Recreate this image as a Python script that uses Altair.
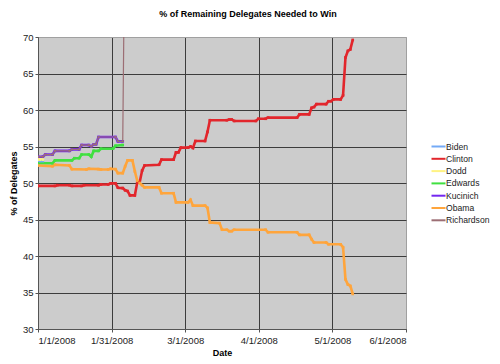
import altair as alt
import pandas as pd

# ---------------- data ----------------
candidates = ["Biden", "Clinton", "Dodd", "Edwards", "Kucinich", "Obama", "Richardson"]
colors = ["#74aaf6", "#e2262c", "#fff383", "#40e040", "#7427f0", "#ffa53c", "#9c6e74"]

biden_dates = ["01-01", "01-02", "01-03"]
biden_vals = [53.0, 53.0, 53.0]

dodd_dates = ["01-01", "01-02", "01-03"]
dodd_vals = [53.2, 53.2, 53.2]

clinton_dates = ["01-01", "01-08", "01-09", "01-14", "01-15", "01-19", "01-20", "01-26",
                 "01-27", "01-30", "01-31", "02-02", "02-03", "02-05", "02-06", "02-07",
                 "02-08", "02-10", "02-11", "02-12", "02-13", "02-14", "02-20", "02-21",
                 "02-26", "02-27", "02-28", "02-29", "03-03", "03-04", "03-05", "03-06",
                 "03-10", "03-11", "03-12", "03-19", "03-20", "03-21", "03-22", "03-31",
                 "04-01", "04-04", "04-05", "04-17", "04-18", "04-22", "04-23", "04-24",
                 "04-25", "04-29", "04-30", "05-01", "05-02", "05-05", "05-06", "05-07",
                 "05-08", "05-09", "05-10"]
clinton_vals = [49.6, 49.6, 49.7, 49.7, 49.6, 49.6, 49.7, 49.7,
                49.8, 49.8, 49.95, 49.95, 49.35, 49.3, 49.0, 48.9,
                48.3, 48.3, 50.1, 50.1, 51.7, 52.4, 52.5, 53.2,
                53.2, 54.2, 54.2, 54.85, 54.85, 55.0, 54.8, 55.75,
                55.75, 57.0, 58.6, 58.6, 58.7, 58.7, 58.5, 58.5,
                58.8, 58.8, 58.95, 58.95, 59.4, 59.4, 60.3, 60.4,
                60.8, 60.8, 61.2, 61.2, 61.45, 61.45, 62.0, 67.2,
                68.1, 68.3, 69.6]

edwards_dates = ["01-01", "01-07", "01-08", "01-15", "01-16", "01-18", "01-19", "01-22",
                 "01-23", "01-24", "01-26", "01-27", "02-01", "02-02", "02-05"]
edwards_vals = [52.7, 52.7, 53.1, 53.1, 53.4, 53.4, 53.9, 53.9,
                53.6, 54.4, 54.4, 54.7, 54.7, 55.1, 55.2]

kucinich_dates = ["01-01", "01-03", "01-04", "01-07", "01-08", "01-14", "01-15", "01-18",
                  "01-19", "01-22", "01-23", "01-24", "01-25", "01-26", "02-02", "02-03",
                  "02-05"]
kucinich_vals = [53.6, 53.6, 53.9, 53.9, 54.4, 54.4, 54.6, 54.6,
                 55.2, 55.2, 55.0, 55.3, 55.3, 56.3, 56.3, 55.7,
                 55.7]

obama_dates = ["01-01", "01-07", "01-08", "01-14", "01-15", "01-21", "01-22", "01-26",
               "01-27", "01-30", "01-31", "02-02", "02-03", "02-05", "02-06", "02-07",
               "02-09", "02-10", "02-11", "02-12", "02-13", "02-14", "02-20", "02-21",
               "02-26", "02-27", "03-03", "03-04", "03-05", "03-10", "03-11", "03-12",
               "03-16", "03-17", "03-19", "03-20", "03-21", "03-22", "04-04", "04-05",
               "04-17", "04-18", "04-22", "04-23", "04-24", "04-29", "04-30", "05-05",
               "05-06", "05-07", "05-08", "05-09", "05-10"]
obama_vals = [52.4, 52.3, 52.5, 52.4, 51.9, 51.85, 51.95, 51.9,
              51.85, 51.85, 51.95, 51.9, 51.35, 51.35, 52.3, 53.1,
              53.1, 51.6, 50.3, 50.0, 49.7, 49.4, 49.4, 48.6,
              48.6, 47.35, 47.35, 47.7, 46.9, 46.9, 46.6, 44.6,
              44.5, 43.6, 43.6, 43.4, 43.4, 43.6, 43.6, 43.25,
              43.25, 42.9, 42.9, 42.3, 41.85, 41.85, 41.6, 41.6,
              41.2, 36.8, 36.1, 35.9, 34.8]

richardson_dates = ["01-01", "01-03", "01-04", "01-07", "01-08", "01-14", "01-15", "01-18",
                    "01-19", "01-22", "01-23", "01-24", "01-25", "01-26", "02-02", "02-03",
                    "02-05", "02-06"]
richardson_vals = [53.6, 53.6, 53.9, 53.9, 54.4, 54.4, 54.6, 54.6,
                   55.2, 55.2, 55.0, 55.3, 55.3, 56.3, 56.3, 55.7,
                   55.7, 90.0]

x_tick_values = ["2008-01-01T00:00:00Z", "2008-01-31T09:36:00Z", "2008-03-01T19:12:00Z",
                 "2008-04-01T04:48:00Z", "2008-05-01T14:24:00Z", "2008-06-01T00:00:00Z"]
y_tick_values = [30, 35, 40, 45, 50, 55, 60, 65, 70]

# ---------------- build table ----------------
series = [
    ("Biden", biden_dates, biden_vals),
    ("Clinton", clinton_dates, clinton_vals),
    ("Dodd", dodd_dates, dodd_vals),
    ("Edwards", edwards_dates, edwards_vals),
    ("Kucinich", kucinich_dates, kucinich_vals),
    ("Obama", obama_dates, obama_vals),
    ("Richardson", richardson_dates, richardson_vals),
]
rows = []
for name, ds, vs in series:
    for d, v in zip(ds, vs):
        rows.append({"candidate": name, "date": "2008-" + d + "T00:00:00Z", "pct": v})
df = pd.DataFrame(rows)

FONT = "Liberation Sans"

x_enc = alt.X(
    "date:T",
    scale=alt.Scale(type="utc", domain=["2008-01-01T00:00:00Z", "2008-06-01T00:00:00Z"], nice=False),
    axis=alt.Axis(
        title="Date",
        values=x_tick_values,
        labelExpr="utcFormat(datum.value, '%-m/%-d/%Y')",
        labelAngle=0,
        tickSize=3,
        labelPadding=3,
        titleY=23,
        titleBaseline="middle",
        gridColor={"condition": {"test": "datum.value > 1212000000000", "value": "#a0a0a0"}, "value": "#3c3c3c"},
    ),
)
y_enc = alt.Y(
    "pct:Q",
    scale=alt.Scale(domain=[30, 70], nice=False, zero=False),
    axis=alt.Axis(
        title="% of Delegates",
        values=y_tick_values,
        tickSize=3,
        labelPadding=2,
        titleX=-25,
        titleBaseline="middle",
        gridColor={"condition": {"test": "datum.value == 70", "value": "#a0a0a0"}, "value": "#3c3c3c"},
    ),
)
color_enc = alt.Color(
    "candidate:N",
    scale=alt.Scale(domain=candidates, range=colors),
    sort=candidates,
    legend=alt.Legend(
        title=None,
        orient="none",
        legendX=396,
        legendY=105,
        symbolType="M-2,0L2,0",
        symbolSize=49,
        symbolStrokeWidth=2,
        labelFont=FONT,
        labelFontSize=8.6,
        labelColor="#222222",
        labelOffset=3,
        rowPadding=2.3,
        padding=0,
    ),
)

base = alt.Chart(df).encode(x=x_enc, y=y_enc, color=color_enc, order=alt.Order("date:T"))

main_lines = base.transform_filter("datum.candidate != 'Richardson'").mark_line(clip=True, strokeWidth=2.6)
main_points = base.transform_filter("datum.candidate != 'Richardson'").mark_point(
    shape="square", filled=True, size=7, opacity=1, clip=True)
rich_line = base.transform_filter("datum.candidate == 'Richardson'").mark_line(clip=True, strokeWidth=1.2)
rich_points = base.transform_filter("datum.candidate == 'Richardson'").mark_point(
    shape="square", filled=True, size=4, opacity=1, clip=True)

chart = (
    alt.layer(main_lines, main_points, rich_line, rich_points)
    .properties(
        width=368,
        height=292,
        title=alt.TitleParams(
            text="% of Remaining Delegates Needed to Win",
            font=FONT,
            fontSize=9,
            fontWeight="bold",
            color="#000000",
            anchor="middle",
            dx=26,
            offset=13,
        ),
        autosize=alt.AutoSizeParams(type="none"),
        padding={"left": 30, "top": 29, "right": 86, "bottom": 27},
        background="white",
    )
    .configure_view(fill="#cccccc", stroke="#a0a0a0", strokeWidth=1)
    .configure_axis(
        labelFont=FONT,
        labelFontSize=9.5,
        labelColor="#222222",
        titleFont=FONT,
        titleFontSize=9,
        titleFontWeight="bold",
        titleColor="#000000",
        domainColor="#555555",
        tickColor="#555555",
        grid=True,
        gridWidth=1,
        gridOpacity=1,
    )
)

chart.save("out.html", embed_options={"renderer": "svg", "actions": False})
